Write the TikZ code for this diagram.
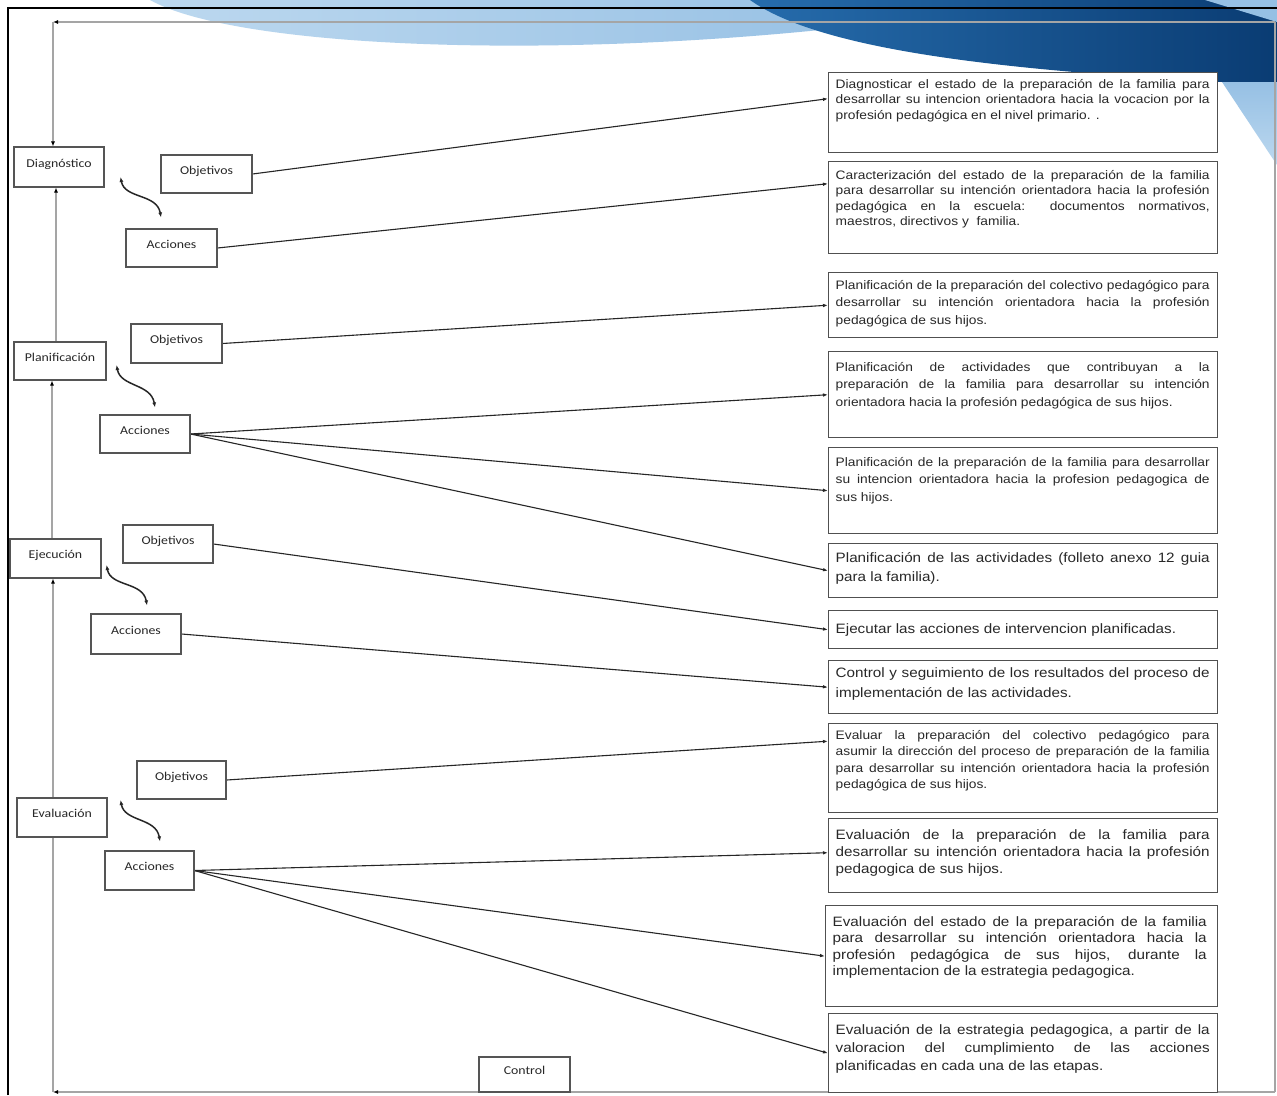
\documentclass[tikz,border=0pt]{standalone}
\usepackage{fontspec}
\newfontfamily\rfont[FakeStretch=1.12]{Liberation Sans}
\newfontfamily\lfont[FakeStretch=1.15]{Carlito}
\usetikzlibrary{arrows.meta,calc}
\pgfdeclarelayer{bg}\pgfdeclarelayer{mid}\pgfsetlayers{bg,mid,main}
\definecolor{lbA}{RGB}{188,216,239}
\definecolor{lbB}{RGB}{150,192,228}
\definecolor{dbA}{RGB}{38,108,172}
\definecolor{dbB}{RGB}{10,60,115}
\definecolor{boxgray}{RGB}{80,80,80}
\definecolor{lboxgray}{RGB}{85,85,85}
\definecolor{txt}{RGB}{40,40,40}
\definecolor{lineg}{RGB}{165,165,165}
\newcommand\J[1]{\makebox[374pt][s]{#1}}
\tikzset{
 rbox/.style={draw=boxgray, line width=1.4pt, fill=white, inner sep=0pt},
 rtxt/.style={inner sep=0pt, font=\rfont, text=txt},
 lbox/.style={draw=lboxgray, line width=1.1pt, fill=white, minimum width=91pt, minimum height=38pt,
   text height=8pt, text depth=8pt, inner sep=0pt, font=\lfont\fontsize{12pt}{14pt}\selectfont, text=txt},
 conn/.style={draw=black!85, line width=1.1pt, -{Latex[length=5pt,width=3.6pt]}},
 gline/.style={draw=lineg, line width=1.2pt, -{Latex[length=5pt,width=4pt,color=black]}},
 wave/.style={draw=black!85, line width=1.5pt, {Latex[length=5pt,width=4pt]}-{Latex[length=5pt,width=4pt]}}
}
% name, x, ytop, width, height, first-baseline offset, baselineskip, font size, text
\newcommand\rb[9]{%
 \node[rbox, minimum width=#4pt, minimum height=#5pt, anchor=north west] (#1) at (#2,#3) {};
 \node[rtxt, anchor=base west] (#1t) at ([xshift=7.5pt,yshift=-#6pt]#1.north west)
   {\parbox[t]{374pt}{\fontsize{#8pt}{#7pt}\selectfont #9}};
}
\begin{document}
\begin{tikzpicture}[x=1pt,y=-1pt]
\useasboundingbox (0,0) rectangle (1277,1095);
\begin{pgfonlayer}{bg}
 \fill[white] (0,0) rectangle (1277,1095);
 \shade[left color=lbA, right color=lbB] (150,0) .. controls (230,45) and (520,60) .. (820,30) -- (900,0) -- cycle;
 \shade[left color=dbA, right color=dbB] (750,0) .. controls (820,50) and (1000,70) .. (1222,82) -- (1277,82) -- (1277,0) -- cycle;
 \fill[lbB] (1205,0) -- (1277,0) -- (1277,22) -- cycle;
 \shade[top color=lbB, bottom color=lbA] (1222,82) -- (1277,82) -- (1277,165) -- cycle;
\end{pgfonlayer}

% stage boxes
\node[lbox, minimum width=90pt, minimum height=40pt] (D) at (59,167) {Diagnóstico};
\node[lbox, minimum width=92pt] (P) at (60,361) {Planificación};
\node[lbox, minimum height=39pt] (E) at (55.5,558.5) {Ejecución};
\node[lbox, minimum width=90pt, minimum height=39pt] (Ev) at (62,817.5) {Evaluación};
\node[lbox] (O1) at (206.5,174) {Objetivos};
\node[lbox] (A1) at (171.5,248) {Acciones};
\node[lbox, minimum height=39pt] (O2) at (176.5,343.5) {Objetivos};
\node[lbox, minimum width=90pt] (A2) at (145,434) {Acciones};
\node[lbox, minimum width=90pt] (O3) at (168,544) {Objetivos};
\node[lbox, minimum width=90pt, minimum height=40pt] (A3) at (136,634) {Acciones};
\node[lbox, minimum width=89pt] (O4) at (181.5,780) {Objetivos};
\node[lbox, minimum width=89pt, minimum height=39pt] (A4) at (149.5,870.5) {Acciones};
\node[lbox, minimum height=35pt] (C) at (524.5,1074.5) {Control};

% right boxes
\rb{R1}{828}{72}{389}{80}{16}{15.5}{12.3}{%
\J{Diagnosticar el estado de la preparación de la familia para}\\
\J{desarrollar su intencion orientadora hacia la vocacion por la}\\
profesión pedagógica en el nivel primario. .}
\rb{R2}{828}{161}{389}{92}{18}{15.5}{12.3}{%
\J{Caracterización del estado de la preparación de la familia}\\
\J{para desarrollar su intención orientadora hacia la profesión}\\
\J{pedagógica en la escuela: documentos normativos,}\\
maestros, directivos y \ familia.}
\rb{R3}{828}{272}{389}{65}{17}{17.5}{12.3}{%
\J{Planificación de la preparación del colectivo pedagógico para}\\
\J{desarrollar su intención orientadora hacia la profesión}\\
pedagógica de sus hijos.}
\rb{R4}{828}{351}{389}{86}{20}{17.5}{12.3}{%
\J{Planificación de actividades que contribuyan a la}\\
\J{preparación de la familia para desarrollar su intención}\\
orientadora hacia la profesión pedagógica de sus hijos.}
\rb{R5}{828}{447}{389}{86}{19}{17.5}{12.3}{%
\J{Planificación de la preparación de la familia para desarrollar}\\
\J{su intencion orientadora hacia la profesion pedagogica de}\\
sus hijos.}
\rb{R6}{828}{543}{389}{54}{19.5}{18.5}{13.6}{%
\J{Planificación de las actividades (folleto anexo 12 guia}\\
para la familia).}
\rb{R7}{828}{610}{389}{38}{23}{18}{13.6}{%
Ejecutar las acciones de intervencion planificadas.}
\rb{R8}{828}{660}{389}{53}{17.5}{20}{13.6}{%
\J{Control y seguimiento de los resultados del proceso de}\\
implementación de las actividades.}
\rb{R9}{828}{723}{389}{89}{16}{16.5}{12.3}{%
\J{Evaluar la preparación del colectivo pedagógico para}\\
\J{asumir la dirección del proceso de preparación de la familia}\\
\J{para desarrollar su intención orientadora hacia la profesión}\\
pedagógica de sus hijos.}
\rb{R10}{828}{818}{389}{74}{21.5}{17.2}{13.6}{%
\J{Evaluación de la preparación de la familia para}\\
\J{desarrollar su intención orientadora hacia la profesión}\\
pedagogica de sus hijos.}
\rb{R11}{825}{905}{392}{101}{21.5}{16.4}{13.6}{%
\J{Evaluación del estado de la preparación de la familia}\\
\J{para desarrollar su intención orientadora hacia la}\\
\J{profesión pedagógica de sus hijos, durante la}\\
implementacion de la estrategia pedagogica.}
\rb{R12}{828}{1013}{389}{79}{21.5}{18}{13.6}{%
\J{Evaluación de la estrategia pedagogica, a partir de la}\\
\J{valoracion del cumplimiento de las acciones}\\
planificadas en cada una de las etapas.}

\coordinate (tr) at (1275,22);
\coordinate (tl) at (53,22);
\coordinate (br) at (1275,1092);
\coordinate (bl) at (53,1092);

\begin{pgfonlayer}{mid}
 % frame
 \draw[black, line width=2pt] (8,1095) -- (8,8) -- (1277,8);
 % loop lines
 \draw[gline,-] (tr) -- (br);
 \draw[gline] (tr) -- (tl);
 \draw[gline] (tl) -- (tl |- D.north);
 \draw[gline] ([xshift=-4pt]P.north) -- ([xshift=-3pt]D.south);
 \draw[gline] ([xshift=-3.5pt]E.north) -- ([xshift=-8pt]P.south);
 \draw[gline] (br) -- (bl);
 \draw[gline] (bl) -- (bl |- E.south);
 % connectors
 \draw[conn] (O1.east) -- ([yshift=14pt]R1.west);
 \draw[conn] (A1.east) -- ([yshift=24pt]R2.west);
 \draw[conn] (O2.east) -- (R3.west);
 \draw[conn] (A2.east) -- (R4.west);
 \draw[conn] (A2.east) -- (R5.west);
 \draw[conn] (A2.east) -- (R6.west);
 \draw[conn] (O3.east) -- (R7.west);
 \draw[conn] (A3.east) -- (R8.west);
 \draw[conn] (O4.east) -- ([yshift=27pt]R9.west);
 \draw[conn] (A4.east) -- ([yshift=3pt]R10.west);
 \draw[conn] (A4.east) -- (R11.west);
 \draw[conn] (A4.east) -- (R12.west);
 % wavy double arrows
 \draw[wave] ([xshift=16pt,yshift=-10pt]D.east) .. controls +(4,22) and +(-4,-24) .. ([xshift=-10.5pt,yshift=11pt]A1.north);
 \draw[wave] ([xshift=10pt,yshift=-4pt]P.east) .. controls +(4,22) and +(-4,-24) .. ([xshift=10pt,yshift=7pt]A2.north);
 \draw[wave] ([xshift=5pt,yshift=-6.5pt]E.east) .. controls +(4,22) and +(-4,-24) .. ([xshift=11pt,yshift=8pt]A3.north);
 \draw[wave] ([xshift=13pt,yshift=17.5pt]Ev.east) .. controls +(4,22) and +(-4,-24) .. ([xshift=10.5pt,yshift=9pt]A4.north);
\end{pgfonlayer}
\end{tikzpicture}
\end{document}
